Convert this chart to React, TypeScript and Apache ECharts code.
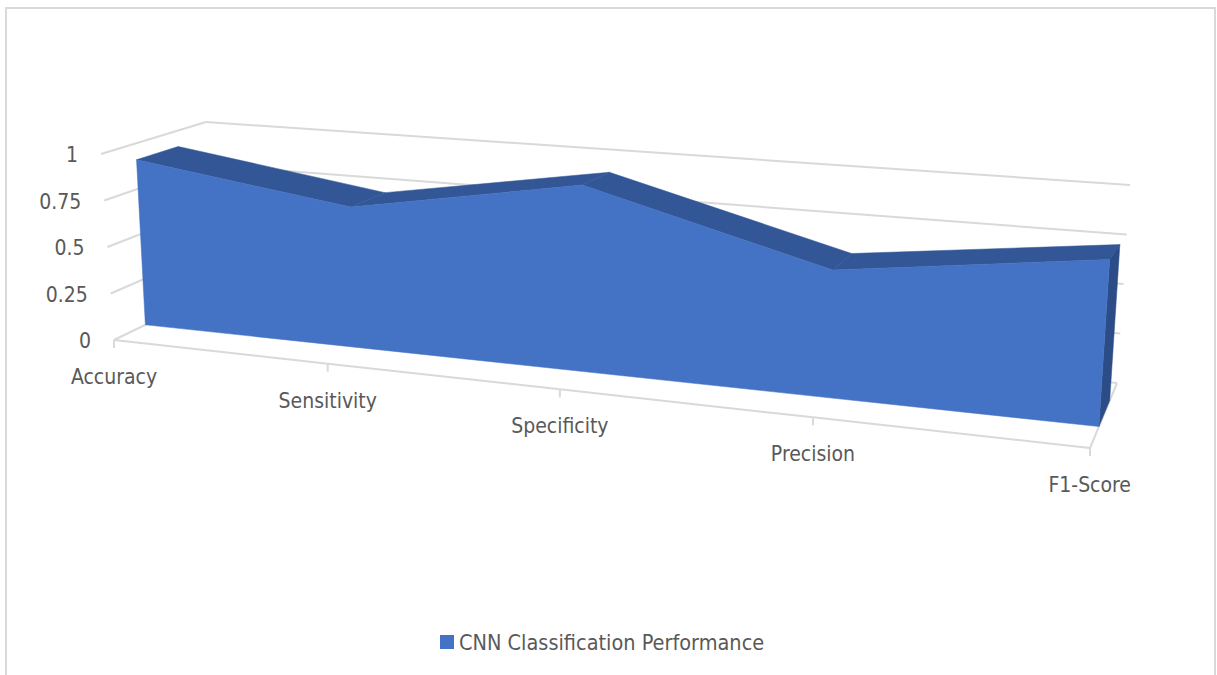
import React, { useEffect, useRef } from "react";
import * as echarts from "echarts";

const categories = ["Accuracy", "Sensitivity", "Specificity", "Precision", "F1-Score"];
const performance = [0.91, 0.735, 0.93, 0.605, 0.75];
const valueTicks = [0, 0.25, 0.5, 0.75, 1];
const seriesName = "CNN Classification Performance";

const WIDTH = 1217;
const HEIGHT = 675;
const FONT = '"DejaVu Sans Condensed", "DejaVu Sans", sans-serif';
const TEXT = "#595959";
const GRID = "#D9D9D9";

// Screen corners of the 3D plot box: f/b = front/back plane, l/r = left/right, 0/1 = value.
const box = {
  fl0: [114, 340], fr0: [1090, 448], fl1: [101, 154], fr1: [1105, 213],
  bl0: [209, 294], br0: [1117, 383], bl1: [206, 122], br1: [1130, 185],
};
const PERSPECTIVE = 0.841;
const AREA_FRONT = 0.33;
const AREA_BACK = 0.73;

const mix = (a: number[], b: number[], t: number) => [a[0] + (b[0] - a[0]) * t, a[1] + (b[1] - a[1]) * t];

// Maps normalised axis position (u, v) at a given depth into the tilted box.
function project(u: number, v: number, depth: number) {
  const s = (u * PERSPECTIVE) / (1 + (PERSPECTIVE - 1) * u);
  const front = mix(mix(box.fl0, box.fr0, s), mix(box.fl1, box.fr1, s), v);
  const back = mix(mix(box.bl0, box.br0, s), mix(box.bl1, box.br1, s), v);
  return mix(front, back, depth);
}

// Reads the category/value scales of the hidden cartesian grid and projects the result.
function place(api: any, category: number, value: number, depth: number) {
  const [x, y] = api.coord([category, value]);
  return project(x / WIDTH, (HEIGHT - y) / HEIGHT, depth);
}

const label = (text: string, x: number, y: number, align: string) => ({
  type: "text",
  silent: true,
  x,
  y,
  style: { text, fill: TEXT, fontSize: 21, fontFamily: FONT, align, verticalAlign: "middle" },
});

const line = (a: number[], b: number[]) => ({
  type: "line",
  silent: true,
  shape: { x1: a[0], y1: a[1], x2: b[0], y2: b[1] },
  style: { stroke: GRID, lineWidth: 2 },
});

const poly = (points: number[][], fill: string) => ({
  type: "polygon",
  silent: true,
  shape: { points },
  style: { fill, stroke: fill, lineWidth: 0.5 },
});

function renderValueTick(_: any, api: any) {
  const value = api.value(1);
  const last = categories.length - 1;
  const start = place(api, 0, value, 0);
  const corner = place(api, 0, value, 1);
  const end = place(api, last, value, 1);
  return {
    type: "group",
    children: [line(start, corner), line(corner, end), label(String(value), start[0] - 23, start[1] + 1, "right")],
  };
}

function renderCategoryTick(params: any, api: any) {
  const index = api.value(0);
  const a = place(api, index, 0, 0);
  const children: any[] = [line(a, [a[0], a[1] + 8])];
  if (index === categories.length - 1) {
    children.push(label(categories[index], box.br1[0] + 1, a[1] + 37, "right"));
    children.push(line(a, place(api, index, 0, 1)));
  } else {
    children.push(label(categories[index], a[0], a[1] + 37, "center"));
    children.push(line(a, place(api, index + 1, 0, 0)));
  }
  return { type: "group", children };
}

function renderArea(params: any, api: any) {
  if (params.dataIndex !== 0) return null;
  const last = performance.length - 1;
  const frontTop = performance.map((v, i) => place(api, i, v, AREA_FRONT));
  const backTop = performance.map((v, i) => place(api, i, v, AREA_BACK));
  const children: any[] = [];
  for (let i = 0; i < last; i++) {
    children.push(poly([frontTop[i], backTop[i], backTop[i + 1], frontTop[i + 1]], "#335796"));
  }
  children.push(
    poly(
      [frontTop[last], backTop[last], place(api, last, 0, AREA_BACK), place(api, last, 0, AREA_FRONT)],
      "#2B4C86",
    ),
  );
  children.push(
    poly([...frontTop, place(api, last, 0, AREA_FRONT), place(api, 0, 0, AREA_FRONT)], "#4472C4"),
  );
  return { type: "group", children };
}

export default function App() {
  const ref = useRef<HTMLDivElement>(null);

  useEffect(() => {
    const chart = echarts.init(ref.current!, undefined, { renderer: "svg" });
    chart.setOption({
      animation: false,
      backgroundColor: "#FFFFFF",
      grid: { left: 0, right: 0, top: 0, bottom: 0 },
      xAxis: { type: "category", data: categories, boundaryGap: false, show: false },
      yAxis: { type: "value", min: 0, max: 1, interval: 0.25, show: false },
      legend: {
        data: [{ name: seriesName, icon: "rect" }],
        left: 440,
        top: 631,
        padding: 0,
        itemWidth: 14,
        itemHeight: 14,
        textStyle: { color: TEXT, fontSize: 21.5, fontFamily: FONT },
      },
      graphic: [
        {
          type: "polyline",
          silent: true,
          shape: { points: [[6, 675], [6, 8], [1215, 8], [1215, 675]] },
          style: { stroke: GRID, lineWidth: 2, fill: "none" },
        },
      ],
      series: [
        {
          type: "custom",
          name: "value ticks",
          clip: false,
          renderItem: renderValueTick,
          encode: { x: 0, y: 1 },
          data: valueTicks.map((v) => [0, v]),
        },
        {
          type: "custom",
          name: "category ticks",
          clip: false,
          renderItem: renderCategoryTick,
          encode: { x: 0, y: 1 },
          data: categories.map((_, i) => [i, 0]),
        },
        {
          type: "custom",
          name: seriesName,
          clip: false,
          renderItem: renderArea,
          itemStyle: { color: "#4472C4" },
          encode: { x: 0, y: 1 },
          data: performance.map((v, i) => [i, v]),
        },
      ],
    });
    return () => chart.dispose();
  }, []);

  return <div ref={ref} style={{ position: "fixed", left: 0, top: 0, width: WIDTH, height: HEIGHT }} />;
}
